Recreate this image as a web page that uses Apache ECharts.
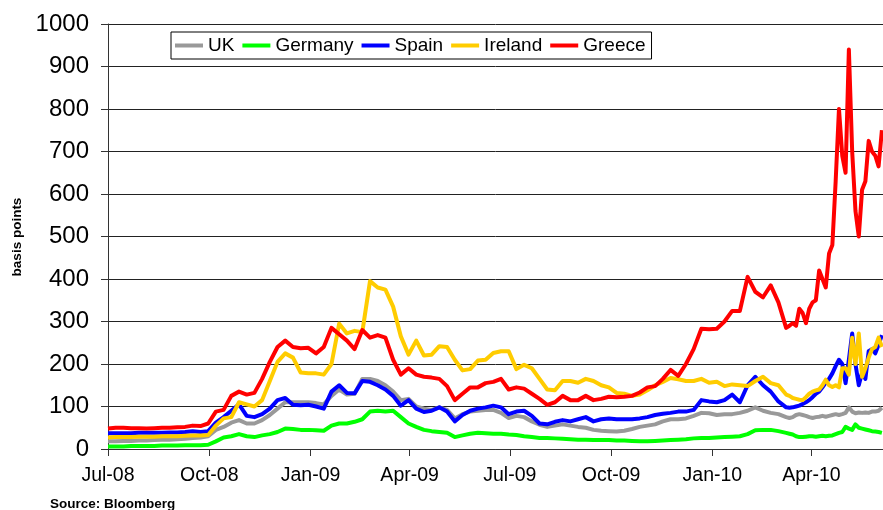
<!DOCTYPE html>
<html>
<head>
<meta charset="utf-8">
<title>CDS spreads</title>
<script src="https://cdn.jsdelivr.net/npm/echarts@6/dist/echarts.min.js"></script>
<style>
  html, body { margin: 0; padding: 0; background: #fff; }
  #chart { width: 883px; height: 510px; }
</style>
</head>
<body>
<div id="chart"></div>
<script>
  // sample days counted from 1 Jul 2008: weekly, then every 3 days near the end
  var days = [];
  for (var d = 0; d <= 616; d += 7) days.push(d);
  for (var d2 = 619; d2 <= 703; d2 += 3) days.push(d2);

  // quarter ticks (days from 1 Jul 2008) and their labels
  var tickDays = [0, 92, 184, 274, 365, 457, 549, 639];
  var tickLabels = ['Jul-08', 'Oct-08', 'Jan-09', 'Apr-09', 'Jul-09', 'Oct-09', 'Jan-10', 'Apr-10'];
  var yTicks = [0, 100, 200, 300, 400, 500, 600, 700, 800, 900, 1000];

  var uk = [18,18,19,19,20,20,21,22,22,23,24,26,27,30,45,52,62,68,60,60,
    68,80,95,110,110,110,110,108,105,125,140,128,130,165,165,160,150,135,115,118,
    100,95,92,98,92,72,82,88,90,92,92,85,73,78,75,65,57,52,55,58,
    55,52,50,45,43,42,41,43,47,52,55,58,65,70,70,72,78,85,84,80,
    82,82,85,90,98,90,85,82,75,73,75,80,82,80,78,75,73,75,76,78,
    76,78,80,82,80,82,85,98,88,84,86,85,86,85,88,88,90,97];

  var germany = [6,6,6,7,7,7,7,8,8,8,9,9,9,10,18,27,30,35,30,28,
    32,35,40,48,47,45,45,44,43,55,60,60,64,70,88,90,88,90,75,60,
    52,45,42,40,38,28,32,36,38,37,36,36,34,33,30,28,26,26,25,24,
    23,22,22,21,21,21,20,20,19,18,18,19,20,21,22,23,25,26,26,27,
    28,29,30,35,44,45,45,42,38,36,34,30,28,28,29,30,30,29,30,31,
    30,31,32,35,38,40,52,48,45,58,50,48,46,44,42,41,40,38];

  var spain = [37,37,37,37,38,38,38,38,39,39,40,42,40,42,62,75,90,105,78,75,
    82,95,115,120,104,103,104,100,95,135,150,132,131,160,158,150,140,125,102,115,
    95,87,90,98,88,65,80,90,95,98,102,98,82,88,90,78,60,58,64,68,
    65,70,75,65,70,72,70,70,70,72,75,80,83,85,88,88,92,115,112,110,
    115,128,110,150,170,150,135,112,98,97,98,100,102,106,110,115,122,130,135,145,
    156,165,178,195,210,200,155,210,272,200,150,180,165,230,235,225,245,268];

  var ireland = [27,28,28,28,29,29,29,30,30,30,31,32,32,33,55,72,75,110,105,100,
    115,160,205,225,215,180,178,178,175,200,295,272,278,275,395,380,375,335,265,222,
    255,220,222,242,240,210,185,188,208,210,226,230,230,188,198,190,165,140,138,160,
    160,156,165,160,150,145,132,130,125,128,138,150,158,167,164,160,160,165,156,158,
    148,152,150,148,160,170,155,150,128,125,120,118,116,115,122,130,135,138,140,150,
    163,150,146,150,145,190,190,175,262,200,272,170,190,215,235,240,262,240];

  var greece = [48,50,50,49,49,48,49,50,50,51,52,55,54,60,88,92,125,135,128,132,
    165,205,240,255,240,237,238,225,240,285,270,255,235,280,262,268,262,210,175,190,
    175,170,168,165,148,115,130,145,145,155,158,165,140,145,142,130,118,104,110,125,
    115,115,125,115,118,123,122,123,125,133,145,148,165,186,172,200,235,283,282,283,
    300,325,325,405,370,357,385,345,285,290,296,290,330,320,296,330,345,350,420,400,
    380,460,480,630,800,690,650,940,700,560,500,610,630,725,700,690,665,750];

  var seriesNames = ['UK', 'Germany', 'Spain', 'Ireland', 'Greece'];
  var seriesColors = ['#999999', '#00ff00', '#0000ff', '#ffcc00', '#ff0000'];
  var seriesValues = [uk, germany, spain, ireland, greece];

  function toPoints(values) {
    return values.map(function (v, i) { return [days[i], v]; });
  }

  var chart = echarts.init(document.getElementById('chart'), null, { renderer: 'canvas' });

  chart.setOption({
    animation: false,
    textStyle: { fontFamily: 'Liberation Sans, Arial, sans-serif' },
    grid: { left: 108, right: 0, top: 24, bottom: 61 },
    legend: {
      left: 171,
      top: 32,
      padding: [4, 6, 4, 4],
      itemGap: 8,
      itemWidth: 28,
      itemHeight: 4,
      icon: 'rect',
      backgroundColor: '#fff',
      borderColor: '#000',
      borderWidth: 1,
      borderRadius: 0,
      textStyle: { fontSize: 19, color: '#000', fontFamily: 'Liberation Sans, Arial, sans-serif' },
      data: seriesNames
    },
    xAxis: {
      type: 'value',
      min: 0,
      max: 704,
      axisLine: { show: true, lineStyle: { color: '#333', width: 1 } },
      axisTick: { show: true, length: 7, customValues: tickDays, lineStyle: { color: '#333' } },
      axisLabel: {
        customValues: tickDays,
        margin: 17,
        fontSize: 19.5,
        color: '#000',
        formatter: function (v) {
          var i = tickDays.indexOf(v);
          return i >= 0 ? tickLabels[i] : '';
        }
      },
      splitLine: { show: false }
    },
    yAxis: {
      type: 'value',
      min: 0,
      max: 1000,
      interval: 100,
      axisLine: { show: true, lineStyle: { color: '#333', width: 1 } },
      axisTick: { show: true, length: 7, lineStyle: { color: '#333' } },
      axisLabel: {
        margin: 19,
        fontSize: 24,
        color: '#000',
        formatter: function (v) { return yTicks.indexOf(v) >= 0 ? String(v) : ''; }
      },
      splitLine: { show: true, lineStyle: { color: '#222', width: 1 } }
    },
    graphic: [
      {
        type: 'text',
        x: 17,
        y: 237,
        rotation: Math.PI / 2,
        style: {
          text: 'basis points',
          fontSize: 13.5,
          fontWeight: 'bold',
          fill: '#000',
          align: 'center',
          verticalAlign: 'middle',
          fontFamily: 'Liberation Sans, Arial, sans-serif'
        }
      },
      {
        type: 'text',
        left: 50,
        top: 497,
        style: {
          text: 'Source: Bloomberg',
          fontSize: 13.5,
          fontWeight: 'bold',
          fill: '#000',
          fontFamily: 'Liberation Sans, Arial, sans-serif'
        }
      }
    ],
    series: seriesNames.map(function (name, k) {
      return {
        name: name,
        type: 'line',
        symbol: 'none',
        showSymbol: false,
        color: seriesColors[k],
        lineStyle: { width: 4, color: seriesColors[k], join: 'round' },
        data: toPoints(seriesValues[k])
      };
    })
  });
</script>
</body>
</html>
